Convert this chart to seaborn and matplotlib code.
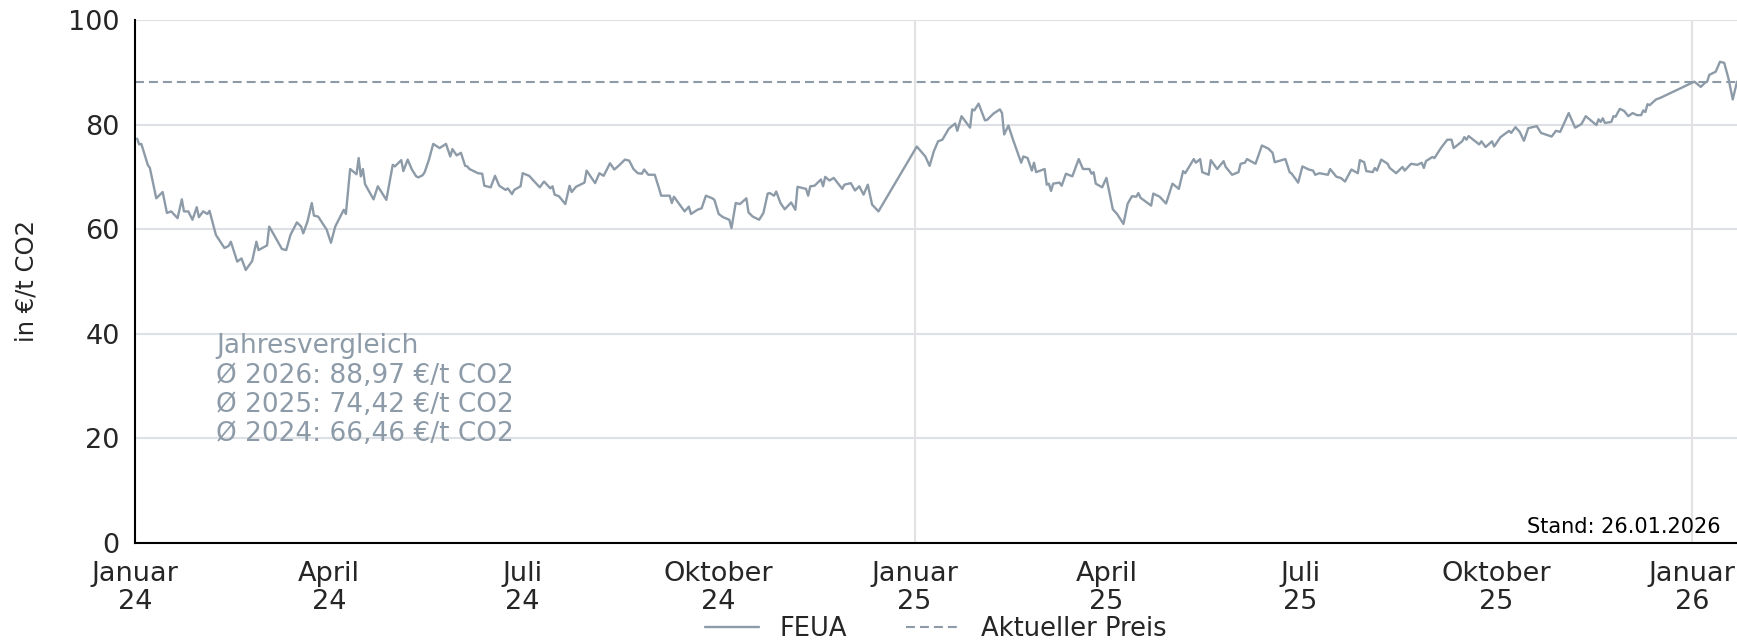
import numpy as np
import pandas as pd
import matplotlib
matplotlib.use("Agg")
import matplotlib.pyplot as plt
import seaborn as sns

# ---------------- data ----------------
start_date = "2024-01-01"
day_offsets = [
    1, 2, 3, 6, 7, 10, 13, 15, 17, 20, 22, 23, 25, 27, 29, 30, 32, 34, 35, 38,
    42, 44, 45, 48, 50, 52, 55, 57, 58, 62, 63, 65, 69, 71, 73, 76, 78, 79, 81, 83,
    84, 86, 90, 92, 94, 98, 99, 101, 104, 105, 106, 107, 108, 112, 114, 116, 118, 121, 122, 125,
    126, 128, 130, 132, 133, 135, 136, 138, 140, 143, 146, 148, 149, 151, 153, 155, 156, 157, 161, 163,
    164, 167, 169, 171, 174, 175, 177, 178, 181, 182, 185, 190, 192, 195, 196, 197, 199, 202, 204, 205,
    207, 211, 212, 216, 218, 220, 223, 225, 227, 230, 232, 234, 236, 238, 239, 241, 244, 246, 247, 251,
    252, 253, 258, 260, 261, 264, 266, 268, 271, 272, 274, 276, 279, 280, 282, 284, 287, 288, 290, 293,
    295, 297, 298, 300, 301, 303, 305, 308, 310, 311, 315, 316, 317, 319, 322, 323, 324, 326, 328, 332,
    333, 336, 338, 340, 342, 344, 346, 349,
    367, 371, 373, 375, 377, 379, 382, 385, 386, 388, 392, 393, 394, 396, 399, 400, 403,
    406, 407, 408, 410, 412, 416, 417, 419, 421, 422, 423, 427, 428, 429, 430, 431, 434, 435, 437,
    440, 443, 445, 448, 449, 450, 451, 454, 456, 459, 461, 464, 466, 468, 470, 471, 472, 477, 478, 481,
    484, 487, 490, 492, 493, 497, 498, 500, 501, 504, 505, 508, 511, 512, 515, 518, 519, 521, 522, 526,
    529, 532, 534, 535, 540, 542, 543, 546, 548, 551, 553, 554, 556, 560, 561, 564, 566, 568, 571, 574,
    575, 577, 578, 581, 582, 583, 585, 588, 589, 592, 595, 596, 599, 602, 604, 605, 606, 609, 610, 613,
    616, 618, 619, 623, 624, 625, 626, 630, 631, 632, 634, 637, 638, 641, 645, 646, 648, 650, 652, 654,
    658, 660, 665, 667, 669, 673, 676, 679, 681, 686, 687, 688, 689, 690, 693, 694, 695, 697, 699, 701,
    703, 705, 707, 708, 709, 710, 711, 714, 716,
    732, 735, 737, 738, 739, 742, 744, 746, 748, 750, 752,
]
feua_prices = [
    77.3, 76.2, 76.3, 72.3, 71.7, 65.9, 67.1, 63.1, 63.4, 62.1, 65.7, 63.4, 63.4, 61.8, 64.2, 62.3, 63.4, 62.9, 63.5, 58.9,
    56.4, 56.8, 57.6, 53.8, 54.4, 52.2, 53.9, 57.6, 56.0, 56.9, 60.5, 59.1, 56.2, 56.0, 58.9, 61.3, 60.5, 59.2, 61.5, 65.0,
    62.6, 62.4, 59.9, 57.4, 60.5, 63.7, 62.9, 71.5, 70.5, 73.6, 70.1, 71.5, 68.6, 65.7, 68.2, 66.9, 65.6, 72.3, 72.0, 73.2,
    71.1, 73.3, 71.4, 70.1, 69.9, 70.3, 70.9, 73.3, 76.3, 75.5, 76.3, 73.9, 75.3, 74.1, 74.6, 72.1, 72.0, 71.5, 70.7, 70.6,
    68.3, 68.0, 70.2, 68.3, 67.5, 67.8, 66.7, 67.5, 68.2, 70.7, 70.2, 68.0, 69.1, 67.8, 68.2, 66.6, 66.3, 64.8, 68.3, 67.1,
    68.1, 68.9, 71.2, 68.8, 70.7, 70.2, 72.6, 71.4, 72.1, 73.3, 73.1, 71.5, 70.7, 70.6, 71.4, 70.4, 70.4, 67.8, 66.4, 66.4,
    65.0, 66.2, 63.4, 64.3, 62.9, 63.7, 64.0, 66.4, 65.9, 65.6, 62.9, 62.3, 61.8, 60.2, 65.0, 64.8, 65.9, 63.2, 62.4, 61.8,
    63.1, 66.8, 66.9, 66.4, 67.2, 65.0, 63.8, 65.1, 63.7, 68.1, 67.7, 66.4, 68.2, 68.3, 69.5, 68.2, 70.0, 69.3, 69.8, 67.7,
    68.5, 68.8, 67.4, 68.2, 66.6, 68.5, 64.7, 63.4,
    75.8, 73.9, 72.1, 74.9, 76.8, 77.1, 79.2, 80.2, 78.8, 81.6, 79.4, 82.9, 82.7, 84.0, 80.8, 80.9, 82.1,
    82.9, 82.2, 78.1, 79.8, 77.3, 72.7, 73.9, 73.6, 71.2, 72.7, 70.9, 71.5, 68.5, 68.7, 67.3, 68.7, 68.9, 68.3, 70.6,
    70.1, 73.4, 71.5, 71.5, 70.6, 70.9, 68.7, 68.0, 69.8, 63.8, 62.9, 61.0, 64.9, 66.3, 66.2, 66.9, 66.0, 64.5, 66.8, 66.2,
    64.9, 68.7, 67.7, 71.1, 70.7, 73.4, 72.7, 73.4, 70.9, 70.4, 73.2, 71.5, 73.0, 71.9, 70.4, 70.9, 72.5, 72.7, 73.4, 72.5,
    76.0, 75.4, 74.6, 72.8, 73.4, 70.9, 70.6, 68.9, 72.0, 71.4, 71.2, 70.4, 70.7, 70.4, 71.5, 70.0, 69.8, 69.1, 71.4, 70.7,
    73.2, 72.8, 71.1, 70.9, 71.7, 71.2, 73.3, 72.5, 71.7, 70.7, 71.9, 71.2, 72.5, 72.3, 72.7, 71.7, 73.0, 73.8, 73.6, 75.5,
    77.1, 77.1, 75.5, 76.8, 77.6, 77.1, 77.8, 76.5, 76.2, 76.8, 75.7, 76.8, 75.8, 77.6, 78.8, 78.4, 79.5, 78.6, 76.9, 79.3,
    79.7, 78.4, 77.7, 78.8, 78.6, 82.2, 79.4, 80.1, 81.6, 79.9, 81.0, 80.5, 81.2, 80.3, 80.5, 81.6, 81.5, 83.0, 82.6, 81.6,
    82.2, 81.8, 81.8, 82.7, 82.4, 83.9, 83.7, 84.8, 85.1,
    88.2, 87.2, 88.0, 88.2, 89.5, 90.1, 92.0, 91.8, 88.8, 84.8, 88.2,
]
y_ticks = [0, 20, 40, 60, 80, 100]
x_tick_dates = ["2024-01-01", "2024-04-01", "2024-07-01", "2024-10-01", "2025-01-01",
                "2025-04-01", "2025-07-01", "2025-10-01", "2026-01-01"]
x_tick_labels = ["Januar\n24", "April\n24", "Juli\n24", "Oktober\n24", "Januar\n25",
                 "April\n25", "Juli\n25", "Oktober\n25", "Januar\n26"]
year_boundaries = ["2025-01-01", "2026-01-01"]
summary_lines = ["Jahresvergleich", "Ø 2026: 88,97 €/t CO2",
                 "Ø 2025: 74,42 €/t CO2", "Ø 2024: 66,46 €/t CO2"]
stand_text = "Stand: 26.01.2026"
y_label = "in €/t CO2"
series_name = "FEUA"
current_name = "Aktueller Preis"

# ---------------- styling ----------------
sns.set_style("white")
plt.rcParams["font.family"] = ["DejaVu Sans"]
line_color = "#8d9ba8"
grid_color = "#dde1e5"
vgrid_color = "#e2e2e2"

fig = plt.figure(figsize=(17.37, 6.43), dpi=100)
ax = fig.add_axes([0.0777, 0.1555, 0.9223, 0.8135])

df = pd.DataFrame({
    "Datum": pd.Timestamp(start_date) + pd.to_timedelta(day_offsets, unit="D"),
    "Preis": feua_prices,
})

for yv in y_ticks:
    ax.axhline(yv, color=grid_color, lw=1.5, zorder=0)
for d in year_boundaries:
    ax.axvline(pd.Timestamp(d), color=vgrid_color, lw=1.5, zorder=0)

sns.lineplot(data=df, x="Datum", y="Preis", ax=ax, color=line_color, lw=1.7,
             label=series_name, zorder=3)
ax.axhline(df["Preis"].iloc[-1], color=line_color, lw=1.5, ls=(0, (4.3, 2.4)),
           label=current_name, zorder=2)

ax.set_xlim(pd.Timestamp(start_date), df["Datum"].iloc[-1])
ax.set_ylim(0, 100)
ax.set_yticks(y_ticks)
ax.set_xticks(pd.to_datetime(x_tick_dates))
ax.set_xticklabels(x_tick_labels)
ax.tick_params(axis="both", labelsize=19.5, length=6, width=1.5, color="black",
               direction="out", pad=5)
ax.tick_params(axis="x", pad=7)
for lab in ax.get_xticklabels():
    lab.set_linespacing(1.12)

ax.set_xlabel("")
ax.set_ylabel(y_label, fontsize=17.5)
ax.yaxis.set_label_coords(-0.060, 0.5)

for s in ["top", "right"]:
    ax.spines[s].set_visible(False)
for s in ["left", "bottom"]:
    ax.spines[s].set_color("black")
    ax.spines[s].set_linewidth(1.5)

ax.text(0.0506, 0.401, "\n".join(summary_lines), transform=ax.transAxes,
        ha="left", va="top", fontsize=19, color=line_color, linespacing=1.17)
ax.text(0.990, 0.012, stand_text, transform=ax.transAxes, ha="right", va="bottom",
        fontsize=15, color="black")

ax.legend(loc="center", bbox_to_anchor=(0.5, -0.165), ncol=2, frameon=False,
          fontsize=18.5, handlelength=2.1, columnspacing=2.3, handletextpad=0.8)

fig.savefig("out.png", dpi=100)
